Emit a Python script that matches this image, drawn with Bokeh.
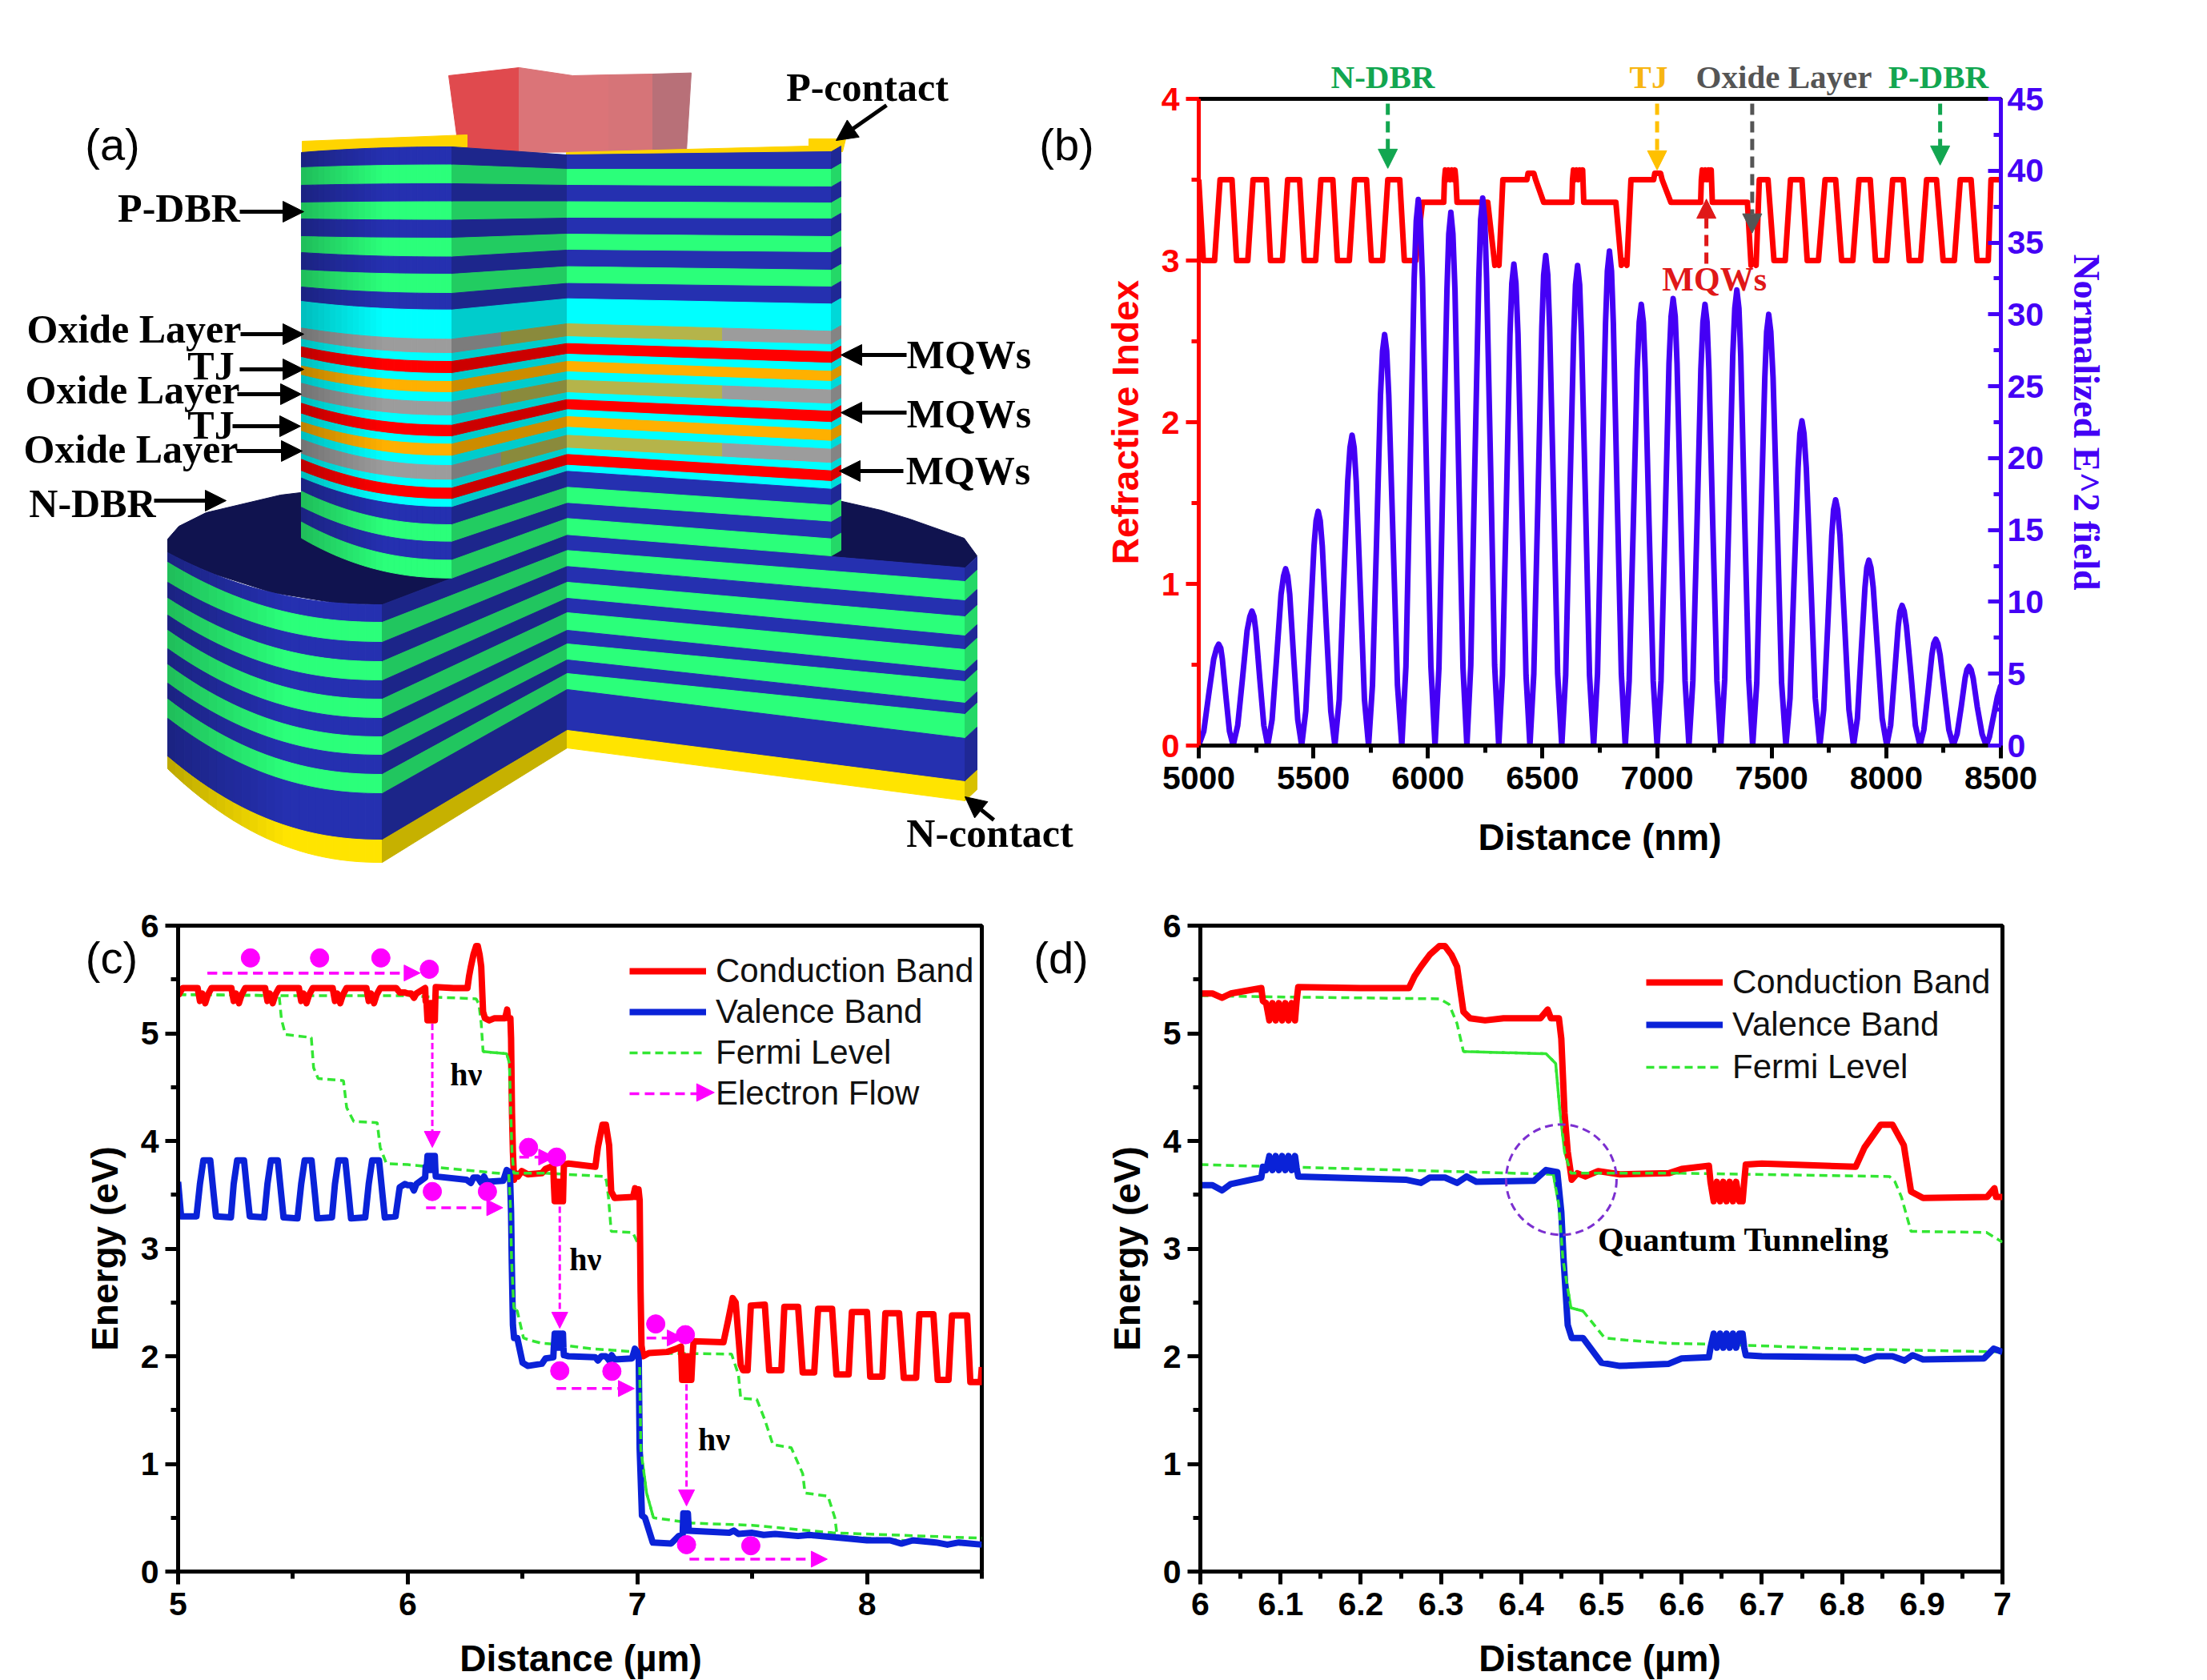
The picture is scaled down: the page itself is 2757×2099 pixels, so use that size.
from bokeh.plotting import figure
from bokeh.layouts import row, column
from bokeh.models import Range1d, LinearAxis, FixedTicker, Label, Arrow, NormalHead, Legend, LegendItem
from bokeh.embed import file_html
from bokeh.resources import INLINE

SANS = "Liberation Sans"
SERIF = "Liberation Serif"
RED = "#FF0000"
BLUE = "#0A22D8"
FIELD = "#4400F5"
GREEN = "#33E633"
MAG = "#FF00FF"

# ---------- panel (b) ----------
index_x = [5000,5020,5069,5093,5145,5165,5214,5237,5295,5313,5365,5388,5440,5460,5510,5533,5585,5605,5657,5680,5732,5753,5802,5825,5877,5897,5947,5976,
           6069,6072,6076,6083,6090,6098,6105,6112,6118,6122,6127,6261,6292,6300,6310,6327,6432,6437,6462,6470,6505,
           6628,6631,6635,6642,6649,6656,6663,6670,6675,6680,6820,6844,6856,6868,6886,6985,6990,7015,7022,7060,
           7190,7193,7197,7204,7211,7218,7225,7232,7236,7241,7394,7410,7420,7432,7446,7484,7510,7559,7582,7632,7655,7704,7733,7779,7805,7854,7881,7930,7953,8002,8028,8074,8100,8150,8176,8219,8248,8297,8323,8370,8396,8445,8457,8500]
index_y = [3.5,3.0,3.0,3.5,3.5,3.0,3.0,3.5,3.5,3.0,3.0,3.5,3.5,3.0,3.0,3.5,3.5,3.0,3.0,3.5,3.5,3.0,3.0,3.5,3.5,3.0,3.0,3.36,
           3.36,3.5,3.56,3.5,3.56,3.5,3.56,3.5,3.56,3.5,3.36,3.36,2.97,3.0,2.97,3.5,3.5,3.54,3.54,3.5,3.36,
           3.36,3.5,3.56,3.5,3.56,3.5,3.56,3.5,3.56,3.36,3.36,2.97,3.0,2.97,3.5,3.5,3.54,3.54,3.5,3.36,
           3.36,3.5,3.56,3.5,3.56,3.5,3.56,3.5,3.56,3.36,3.36,2.97,3.0,2.97,3.5,3.5,3.0,3.0,3.5,3.5,3.0,3.0,3.5,3.5,3.0,3.0,3.5,3.5,3.0,3.0,3.5,3.5,3.0,3.0,3.5,3.5,3.0,3.0,3.5,3.5,3.0,3.0,3.5,3.5]
field_x = [5000,5022,5043,5065,5078,5087,5096,5103,5118,5134,5150,5170,5191,5211,5223,5232,5241,5249,5266,5284,5301,5320,5340,5359,5370,5379,5388,5397,5414,5432,
           5449,5467,5485,5503,5512,5521,5530,5539,5557,5576,5594,5613,5631,5650,5660,5669,5678,5687,5705,5723,5741,5758,5776,5793,5802,5811,5820,5829,5848,5867,
           5886,5904,5922,5940,5949,5958,5967,5976,5994,6013,6031,6048,6065,6083,6091,6100,6109,6118,6135,6153,6170,6187,6204,6222,6230,6239,6248,6256,6274,6291,
           6309,6325,6342,6358,6366,6375,6384,6393,6410,6428,6445,6462,6480,6497,6505,6514,6523,6531,6549,6566,6584,6601,6618,6636,6644,6653,6662,6670,6688,6705,
           6723,6740,6757,6775,6783,6792,6801,6809,6826,6844,6861,6878,6896,6913,6922,6931,6940,6948,6965,6983,7000,7017,7035,7052,7061,7070,7079,7087,7104,7122,
           7139,7156,7174,7191,7200,7209,7218,7226,7243,7261,7278,7295,7313,7330,7339,7348,7357,7365,7382,7400,7417,7435,7452,7470,7478,7487,7496,7506,7525,7543,
           7562,7580,7597,7615,7623,7632,7641,7651,7671,7690,7710,7727,7745,7762,7770,7779,7788,7798,7818,7837,7857,7874,7890,7907,7915,7924,7933,7943,7963,7982,
           8002,8019,8036,8052,8060,8069,8078,8088,8108,8127,8147,8164,8182,8199,8207,8216,8225,8235,8254,8273,8292,8309,8327,8344,8352,8361,8370,8379,8397,8418,
           8436,8450,8465,8485,8500]
field_y = [0,1.0,3.5,6.0,6.77,7.05,6.77,6.0,3.5,1.0,0,1.4,4.7,8.0,8.98,9.35,8.98,8.0,4.7,1.4,0,1.8,6.15,10.5,11.8,12.3,11.8,10.5,6.15,1.8,
           0,2.4,8.15,13.9,15.65,16.3,15.65,13.9,8.15,2.4,0,3.2,10.8,18.4,20.74,21.6,20.74,18.4,10.8,3.2,0,4.2,14.3,24.4,27.46,28.6,27.46,24.4,14.3,4.2,
           0,5.5,19,32.5,36.5,38,36.5,32.5,19,5.5,0,5.4,18.5,31.7,35.6,37.1,35.6,31.7,18.5,5.4,0,5.6,19,32.5,36.6,38.1,36.6,32.5,19,5.6,
           0,4.9,16.7,28.6,32.16,33.5,32.16,28.6,16.7,4.9,0,5,17,29.1,32.74,34.1,32.74,29.1,17,5,0,4.9,16.7,28.5,32.06,33.4,32.06,28.5,16.7,4.9,
           0,5,17.2,29.4,33.02,34.4,33.02,29.4,17.2,5,0,4.5,15.3,26.2,29.47,30.7,29.47,26.2,15.3,4.5,0,4.5,15.5,26.6,29.86,31.1,29.86,26.6,15.5,4.5,
           0,4.5,15.3,26.2,29.47,30.7,29.47,26.2,15.3,4.5,0,4.6,15.8,27.1,30.43,31.7,30.43,27.1,15.8,4.6,0,4.4,15,25.6,28.8,30,28.8,25.6,15,4.4,
           0,3.3,11.3,19.3,21.7,22.6,21.7,19.3,11.3,3.3,0,2.5,8.5,14.6,16.42,17.1,16.42,14.6,8.5,2.5,0,1.9,6.4,11,12.38,12.9,12.38,11,6.4,1.9,
           0,1.4,4.9,8.3,9.36,9.75,9.36,8.3,4.9,1.4,0,1.1,3.7,6.3,7.1,7.4,7.1,6.3,3.7,1.1,0,.8,2.7,4.7,5.28,5.5,5.28,4.7,2.7,.8,
           0,.6,1.8,3.4,4.2]

# ---------- panels (c), (d): band diagram ----------
cb_left_x = [5.0,5.02,5.085,5.095,5.105,5.118,5.13,5.145,5.232,5.242,5.252,5.265,5.277,5.292,5.379,5.389,5.399,5.412,5.424,5.439,
             5.526,5.536,5.546,5.559,5.571,5.586,5.673,5.683,5.693,5.706,5.718,5.733,5.82,5.83,5.84,5.853,5.865,5.88,5.95,5.965,5.985]
cb_left_y = [5.35,5.42,5.42,5.30,5.37,5.28,5.36,5.42,5.42,5.30,5.37,5.28,5.36,5.42,5.42,5.30,5.37,5.28,5.36,5.42,
             5.42,5.30,5.37,5.28,5.36,5.42,5.42,5.30,5.37,5.28,5.36,5.42,5.42,5.30,5.37,5.28,5.36,5.42,5.42,5.38,5.38]
cb_mid_x = [6.0,6.015,6.027,6.038,6.076,6.078,6.082,6.086,6.09,6.094,6.098,6.102,6.106,6.11,6.114,6.118,6.12,6.122,6.2,6.26,6.267,6.275,6.286,6.298,6.305,6.313,6.32,6.328,6.336,6.355,6.378,6.424,6.433,6.437,6.447,6.45,6.454,6.458,6.463,6.47,6.48,6.496,6.523,6.584,6.6,6.634,6.636,6.64,6.644,6.648,6.652,6.656,6.66,6.664,6.668,6.672,6.676,6.678,6.68,6.7,6.817,6.828,6.848,6.863,6.877,6.886,6.901,6.981,6.99,6.992,7.0]
cb_mid_y = [5.37,5.37,5.33,5.37,5.42,5.30,5.28,5.12,5.28,5.12,5.28,5.12,5.28,5.12,5.28,5.12,5.3,5.43,5.42,5.42,5.53,5.62,5.73,5.81,5.81,5.73,5.62,5.2,5.14,5.12,5.14,5.14,5.22,5.14,5.14,4.95,4.26,3.9,3.64,3.7,3.67,3.72,3.69,3.7,3.74,3.77,3.62,3.44,3.62,3.44,3.62,3.44,3.62,3.44,3.62,3.44,3.44,3.62,3.78,3.79,3.76,3.94,4.15,4.15,3.96,3.53,3.47,3.48,3.56,3.48,3.48]
cb_right_x = [7.005,7.01,7.014,7.018,7.025,7.05,7.13,7.17,7.19,7.195,7.2,7.205,7.21,7.215,7.22,7.225,7.23,7.235,7.24,7.245,7.375,7.395,7.415,7.428,7.45,7.46,7.48,7.494,7.555,7.574,7.627,7.64,7.70,7.72,7.77,7.787,7.848,7.867,7.92,7.934,8.0,8.014,8.067,8.08,8.14,8.16,8.214,8.228,8.289,8.308,8.355,8.37,8.436,8.45,8.495,8.5]
cb_right_y = [3.55,3.45,2.6,2.1,2.0,2.03,2.04,2.07,2.09,1.78,2.0,1.78,2.0,1.78,2.0,1.78,2.0,1.78,2.0,2.14,2.13,2.33,2.54,2.5,1.92,1.87,1.87,2.47,2.48,1.87,1.87,2.46,2.46,1.85,1.85,2.44,2.44,1.83,1.83,2.41,2.41,1.81,1.81,2.40,2.40,1.80,1.80,2.39,2.39,1.78,1.78,2.38,2.38,1.76,1.76,1.9]

vb_left_x = [5.0,5.013,5.08,5.095,5.11,5.14,5.155,5.165,5.23,5.242,5.257,5.287,5.302,5.312,5.375,5.389,5.404,5.434,5.449,5.459,5.52,5.536,5.551,5.581,5.596,5.606,5.67,5.683,5.698,5.728,5.743,5.753,5.815,5.83,5.845,5.875,5.89,5.9,5.947,5.965,5.987]
vb_left_y = [3.62,3.3,3.3,3.6,3.82,3.82,3.5,3.3,3.29,3.6,3.82,3.82,3.5,3.3,3.29,3.6,3.82,3.82,3.5,3.29,3.28,3.6,3.82,3.82,3.5,3.28,3.29,3.6,3.82,3.82,3.5,3.28,3.29,3.6,3.82,3.82,3.5,3.29,3.3,3.57,3.6]
vb_mid_x = [6.0,6.015,6.027,6.038,6.076,6.078,6.082,6.086,6.09,6.094,6.098,6.102,6.106,6.11,6.114,6.118,6.12,6.122,6.256,6.275,6.286,6.305,6.32,6.332,6.344,6.416,6.431,6.445,6.45,6.453,6.458,6.463,6.477,6.5,6.523,6.584,6.6,6.634,6.636,6.64,6.644,6.648,6.652,6.656,6.66,6.664,6.668,6.672,6.676,6.678,6.68,6.7,6.817,6.828,6.843,6.863,6.878,6.888,6.901,6.977,6.989,7.0]
vb_mid_y = [3.59,3.59,3.54,3.6,3.66,3.76,3.73,3.86,3.73,3.86,3.73,3.86,3.73,3.86,3.73,3.86,3.75,3.67,3.64,3.61,3.66,3.66,3.61,3.67,3.62,3.63,3.73,3.71,3.34,2.88,2.29,2.17,2.17,1.94,1.91,1.93,1.98,1.99,2.08,2.21,2.08,2.21,2.08,2.21,2.08,2.21,2.08,2.21,2.21,2.08,2.01,2.0,1.99,1.96,2.0,2.0,1.96,2.01,1.97,1.98,2.07,2.04]
vb_right_x = [7.006,7.01,7.02,7.033,7.067,7.147,7.18,7.197,7.2,7.205,7.21,7.215,7.22,7.224,7.4,7.42,7.44,7.5,7.55,7.6,7.7,7.75,7.9,8.0,8.1,8.15,8.2,8.3,8.35,8.4,8.5]
vb_right_y = [1.97,1.14,.52,.5,.27,.26,.33,.34,.54,.38,.54,.38,.54,.38,.36,.38,.35,.36,.34,.35,.33,.34,.31,.29,.29,.26,.29,.27,.25,.27,.25]

efn_left_x = [5.0,5.44]
efn_left_y = [5.36,5.35]
efn_mid_x = [6.0,6.076,6.298,6.31,6.32,6.328,6.431,6.443,6.448,6.454,6.462,6.6,6.859,6.866,6.874,6.886,6.98,7.0]
efn_mid_y = [5.35,5.34,5.32,5.27,5.09,4.83,4.81,4.72,4.3,3.9,3.7,3.7,3.67,3.62,3.48,3.16,3.15,3.06]
efn_right_x = [7.01,7.015,7.03,7.41,7.44,7.45,7.52,7.555,7.59,7.67,7.72,7.73,7.83,7.86,7.87,8.5]
efn_right_y = [3.02,2.15,2.03,2.02,1.83,1.61,1.6,1.41,1.18,1.15,.91,.73,.7,.5,.33,.24]
efp_left_x = [5.0,5.44,5.45,5.467,5.58,5.59,5.61,5.72,5.734,5.765,5.867,5.88,5.907]
efp_left_y = [5.36,5.35,5.13,4.99,4.96,4.68,4.58,4.56,4.31,4.18,4.17,3.94,3.79]
efp_mid_x = [6.0,6.2,6.44,6.447,6.452,6.462,6.477,6.504,6.53,6.584,6.65,6.798,7.0]
efp_mid_y = [3.78,3.74,3.69,3.4,2.9,2.45,2.42,2.17,2.15,2.12,2.11,2.07,2.04]
efp_right_x = [7.01,7.015,7.04,7.07,7.24,7.5,7.85,8.5]
efp_right_y = [1.9,1.14,.73,.5,.45,.43,.36,.31]

electron_x = [5.315,5.616,5.883,6.094,6.107,6.347,6.526,6.648,6.662,6.889,7.08,7.209,7.214,7.494]
electron_y = [5.70,5.70,5.70,5.595,3.53,3.53,3.94,3.85,1.865,1.86,2.3,2.2,.25,.24]
flow_arrows = [(5.128,6.054,5.56),(6.08,6.414,3.38),(6.486,6.64,3.85),(6.648,6.987,1.70),(7.04,7.2,2.17),(7.227,7.827,.115)]
photon_arrows = [(6.107,5.09,3.94),(6.662,3.39,2.26),(7.214,1.74,.61)]

# ---------- panel (a): layer boundaries of the schematic ----------
PB,PG,PC,PY,PR,PO = "#2530B0","#2BFF7A","#00FFFF","#9C9C9C","#FF0000","#FFB000"
YEL = "#FFE400"
pillar_colors = [PB,PG,PB,PG,PB,PG,PB,PG,PB, PC,PY,PC,PR,PC,PO,PC,PY,PC,PR,PC,PO,PC,PY,PC,PR,PC, PB,PG,PB,PG]
pillar_edges = [(190,183,193,189),(209,205.5,211,211),(231,229,231,233),(253,251.5,251.5,253),(273,274.5,272,273),
    (295,297,292,295),(315,320.5,312,315),(337,342,332.6,337),(358,366,353.6,358),(376,386.7,372.7,379.3),
    (409.3,423.3,404,413.3),(423.3,441,420,430),(432.7,451,428.7,439),(446,466,442,453.3),(456.7,476,451,463.3),
    (468.3,490,464,476),(478.3,501.7,474.3,486.7),(495,519,490,504.3),(503.3,530.7,498.7,513.3),(516.7,545,511.3,527.3),
    (526.7,554.3,520,536.7),(538.3,569.3,533.3,550.7),(548.3,581,543.3,560.7),(566.7,599.3,559.3,578.3),(573.3,609.3,567.3,587.7),
    (588.3,623.3,580.7,601),(596.7,633.3,588.3,610.7),(613.3,655,608.3,630.7),(633.3,676.7,628.3,651.7),(651.7,699.3,647.3,672.7),(671.7,721.7,667.3,694)]
base_colors = [PB,PG,PB,PG,PB,PG,PB,PG,PB,PG,PB,YEL]
base_edges = [(690,755,667.3,709),(702,777,687.3,726),(727,802,707.3,750),(747,826,727,770),(768,850,747,794),(787,873,765,811),
    (810,897,787,838),(830,920,804,851),(853,943,824,878),(873,967,841,892),(897,991,861,922),(945,1049,912,976),(960,1077,934,1000)]
PX = (376,564,708,1038,1050)   # pillar: left edge, corners, right edge, side
BX = (209,477,708,1205,1220)   # base: left edge, corners, right edge, side
top_face_x = [209,209,223,257,350,500,800,1047,1100,1136,1204,1220,1205,708,477,420,340,265,228]
top_face_y = [690,673,657,640,618,600,600,625,637,648,672,694,709,667.3,755,753,740,716,700]
contact_left_x, contact_left_y = [377,583,583,377],[176,168,183,190]
contact_right_x, contact_right_y = [707,1010,1010,1056,1052,707],[190,182,173,173,189,200]
cap_parts = [([560,648,648,572],[94,84,190,183],"#E04A4E"),
             ([648,715,760,760,648],[84,94,93,189,190],"#DB7478"),
             ([760,815,815,760],[93,92,189,189],"#D67478"),
             ([815,863,857,815],[92,90.6,188.6,189],"#B87078")]
a_texts = [("P-contact",1083,108),("P-DBR",223,259),("Oxide Layer",167,410),("TJ",263,456),("Oxide Layer",165,486),("TJ",263,530),
           ("Oxide Layer",163,560),("N-DBR",115,628),("MQWs",1210,442),("MQWs",1210,516),("MQWs",1209,587),("N-contact",1236,1040)]
a_arrows = [(299,264,379,264),(300,417,379,417),(299,461,379,461),(296,492,376,492),(290,532,375,532),(295,563,377,563),(192,625,282,625),
            (1132,443,1050,443),(1132,515,1050,515),(1128,588,1048,588),(1107,131,1044,175),(1241,1024,1205,995)]
panel_letters = [("(a)",140,180),("(b)",1332,180),("(c)",139,1196),("(d)",1325,1196)]
b_top_texts = [("N-DBR",1727,95,"#12A650"),("TJ",2059,95,"#F7B512"),("Oxide Layer",2228,95,"#555555"),("P-DBR",2421,95,"#12A650")]
xlabel_cd = [("Distance (µm)",725,2071),("Distance (µm)",1998,2071)]


def hex_scale(c, f):
    r, g, b = int(c[1:3], 16), int(c[3:5], 16), int(c[5:7], 16)
    return "#%02x%02x%02x" % (int(r*f), int(g*f), int(b*f))

def bow(t):
    return 1 - (1 - t) ** 2.2

def lerp(a, b, t):
    return a + (b - a) * t

def add_curved(store, x0, x1, edges, colors, n=26):
    for i, col in enumerate(colors):
        t0, b0 = edges[i][0], edges[i+1][0]
        t1, b1 = edges[i][1], edges[i+1][1]
        for k in range(n):
            ta, tb = k/n, (k+1)/n
            xa, xb = lerp(x0, x1, ta), lerp(x0, x1, tb)
            f = 0.74 + 0.26*min(1, (ta+tb)/2/0.55)
            store.append(([xa, xb, xb, xa],
                          [lerp(t0, t1, bow(ta)), lerp(t0, t1, bow(tb)), lerp(b0, b1, bow(tb)), lerp(b0, b1, bow(ta))],
                          hex_scale(col, f)))

def add_flat(store, xa, xb, ca, cb, edges, colors, f, split=None, olive=None):
    for i, col in enumerate(colors):
        ta, ba = edges[i][ca], edges[i+1][ca]
        tb, bb = edges[i][cb], edges[i+1][cb]
        if col == PY and split is not None:
            u = (split - xa)/(xb - xa)
            tm, bm = lerp(ta, tb, u), lerp(ba, bb, u)
            if olive[0]:   # olive on the right-hand part
                store.append(([xa, split, split, xa], [ta, tm, bm, ba], hex_scale(PY, f)))
                store.append(([split, xb, xb, split], [tm, tb, bb, bm], olive[1]))
            else:
                store.append(([xa, split, split, xa], [ta, tm, bm, ba], olive[1]))
                store.append(([split, xb, xb, split], [tm, tb, bb, bm], hex_scale(PY, f)))
        else:
            store.append(([xa, xb, xb, xa], [ta, tb, bb, ba], hex_scale(col, f)))


def draw_polys(p, polys):
    p.patches([q[0] for q in polys], [q[1] for q in polys], fill_color=[q[2] for q in polys],
              line_color=[q[2] for q in polys], line_width=1)

def text(p, s, x, y, size, font=SERIF, style="bold", color="black", **kw):
    p.add_layout(Label(x=x, y=y, text=s, text_font=font, text_font_size=f"{size}px", text_font_style=style,
                       text_color=color, text_align="center", text_baseline="middle", **kw))

def arrow(p, x0, y0, x1, y1, color, width, size, dash="solid"):
    p.add_layout(Arrow(end=NormalHead(size=size, fill_color=color, line_color=color, line_width=1),
                       x_start=x0, y_start=y0, x_end=x1, y_end=y1,
                       line_color=color, line_width=width, line_dash=dash))

# ------- panel a figure
pa = figure(width=1345, height=1130, x_range=Range1d(0, 1345), y_range=Range1d(1130, 0),
            toolbar_location=None, output_backend="svg", min_border=0, tools="", frame_align=False)
pa.axis.visible = False
pa.grid.visible = False
pa.outline_line_color = None

polys = [(top_face_x, top_face_y, "#10134F")]
for q in cap_parts:
    polys.append(q)
polys.append((contact_left_x, contact_left_y, "#FFD400"))
polys.append((contact_right_x, contact_right_y, "#FFD400"))
add_curved(polys, BX[0], BX[1], [(e[0], e[1]) for e in base_edges], base_colors)
add_flat(polys, BX[1], BX[2], 1, 2, base_edges, base_colors, 0.78)
add_flat(polys, BX[2], BX[3], 2, 3, base_edges, base_colors, 1.0)
side = [(e[3], e[3]-14) for e in base_edges]
add_flat(polys, BX[3], BX[4], 0, 1, side, base_colors, 0.85)
add_curved(polys, PX[0], PX[1], [(e[0], e[1]) for e in pillar_edges], pillar_colors)
add_flat(polys, PX[1], PX[2], 1, 2, pillar_edges, pillar_colors, 0.8, split=626, olive=(True, "#8A8A3C"))
add_flat(polys, PX[2], PX[3], 2, 3, pillar_edges, pillar_colors, 1.0, split=902, olive=(False, "#B5B44A"))
side = [(e[3], e[3]-7) for e in pillar_edges]
add_flat(polys, PX[3], PX[4], 0, 1, side, pillar_colors, 0.85)
draw_polys(pa, polys)

for s, x, y in a_texts:
    text(pa, s, x, y, 50)
for x0, y0, x1, y1 in a_arrows:
    arrow(pa, x0, y0, x1, y1, "black", 5, 26)


def style_axis(ax, color="black", major=None, minor=None, in_ticks=False):
    ax.ticker = FixedTicker(ticks=major, minor_ticks=minor)
    ax.axis_line_color = color
    ax.axis_line_width = 5
    ax.major_tick_line_color = color
    ax.minor_tick_line_color = color
    ax.major_tick_line_width = 5
    ax.minor_tick_line_width = 5
    ax.major_tick_in = 16 if in_ticks else 0
    ax.major_tick_out = 0 if in_ticks else 16
    ax.minor_tick_in = 9 if in_ticks else 0
    ax.minor_tick_out = 0 if in_ticks else 9
    ax.major_label_text_color = color
    ax.major_label_text_font = SANS
    ax.major_label_text_font_style = "bold"
    ax.major_label_text_font_size = "41px"
    ax.axis_label_text_color = color
    ax.axis_label_text_font = SANS
    ax.axis_label_text_font_style = "bold"
    ax.axis_label_text_font_size = "46px"

def frange(a, b, s):
    out = []
    k = 0
    while a + k*s <= b + 1e-9:
        out.append(round(a + k*s, 4))
        k += 1
    return out

def base_fig(w, h, xr, yr, l, r, t, b):
    p = figure(width=w, height=h, x_range=Range1d(*xr), y_range=Range1d(*yr), toolbar_location=None, frame_align=False,
               output_backend="svg", min_border_left=l, min_border_right=r, min_border_top=t, min_border_bottom=b, tools="")
    p.grid.visible = False
    p.outline_line_color = "black"
    p.outline_line_width = 5
    return p

# ------- panel b
pb = base_fig(1412, 1130, (5000, 8500), (0, 4), 152, 258, 123, 199)
pb.extra_y_ranges = {"field": Range1d(0, 45)}
style_axis(pb.xaxis[0], "black", frange(5000, 8500, 500), frange(5000, 8500, 250))
style_axis(pb.yaxis[0], RED, [0, 1, 2, 3, 4], frange(0, 4, .5))
rax = LinearAxis(y_range_name="field", axis_label="Normalized E^2 field")
style_axis(rax, FIELD, frange(0, 45, 5), frange(0, 45, 2.5), in_ticks=True)
rax.axis_label_text_font = SERIF
rax.axis_label_text_font_size = "46px"
rax.axis_label_orientation = "vertical"
pb.add_layout(rax, "right")
pb.xaxis[0].axis_label = "Distance (nm)"
pb.yaxis[0].axis_label = "Refractive Index"
pb.xaxis[0].major_label_standoff = 10
pb.xaxis[0].axis_label_standoff = 31
pb.yaxis[0].major_label_standoff = 8
pb.yaxis[0].axis_label_standoff = 16
rax.major_label_standoff = 8
rax.axis_label_standoff = 25
pb.line(index_x, index_y, line_color=RED, line_width=7, line_join="round")
pb.line(field_x, field_y, line_color=FIELD, line_width=7, line_join="round", y_range_name="field")
text(pb, "MQWs", 7250, 2.885, 42, color="#E01818")
arrow(pb, 5825, 3.97, 5825, 3.57, "#12A650", 5, 24, "14 8")
arrow(pb, 7000, 3.97, 7000, 3.56, "#FFC000", 5, 24, "14 8")
arrow(pb, 7415, 3.97, 7415, 3.17, "#555555", 5, 24, "14 8")
arrow(pb, 8235, 3.97, 8235, 3.59, "#12A650", 5, 24, "14 8")
arrow(pb, 7215, 2.98, 7215, 3.38, "#E01818", 5, 24, "14 8")

# ------- panel c
pc = base_fig(1270, 969, (5, 8.5), (0, 6), 222, 44, 26, 136)
style_axis(pc.xaxis[0], "black", [5, 6, 7, 8], frange(5, 8.5, .5))
style_axis(pc.yaxis[0], "black", frange(0, 6, 1), frange(0, 6, .5))
pc.yaxis[0].axis_label = "Energy (eV)"
pc.xaxis[0].major_label_standoff = 10
pc.yaxis[0].major_label_standoff = 8
pc.yaxis[0].axis_label_standoff = 16
f1 = pc.line(efn_left_x + efn_mid_x + efn_right_x, efn_left_y + efn_mid_y + efn_right_y, line_color=GREEN, line_width=3.5, line_dash="10 6")
pc.line(efp_left_x + efp_mid_x + efp_right_x, efp_left_y + efp_mid_y + efp_right_y, line_color=GREEN, line_width=3.5, line_dash="10 6")
r1 = pc.line(cb_left_x + cb_mid_x + cb_right_x, cb_left_y + cb_mid_y + cb_right_y, line_color=RED, line_width=8, line_join="round")
r2 = pc.line(vb_left_x + vb_mid_x + vb_right_x, vb_left_y + vb_mid_y + vb_right_y, line_color=BLUE, line_width=8, line_join="round")
pc.line(efn_mid_x[5:12], efn_mid_y[5:12], line_color=GREEN, line_width=3.5, line_dash="10 6")
pc.line(efp_mid_x[2:7], efp_mid_y[2:7], line_color=GREEN, line_width=3.5, line_dash="10 6")
pc.line(efp_right_x[:4], efp_right_y[:4], line_color=GREEN, line_width=3.5, line_dash="10 6")
pc.scatter(electron_x, electron_y, size=23, marker="circle", fill_color=MAG, line_color=MAG)
for x0, x1, y in flow_arrows:
    arrow(pc, x0, y, x1, y, MAG, 3.5, 20, "12 7")
for x, y0, y1 in photon_arrows:
    arrow(pc, x, y0, x, y1, MAG, 3, 20, "8 4")
for x, y in [(6.254, 4.62), (6.774, 2.9), (7.334, 1.23)]:
    text(pc, "hν", x, y, 40)
r4 = pc.line([flow_arrows[0][0], flow_arrows[0][1]], [flow_arrows[0][2], flow_arrows[0][2]], line_color=MAG, line_width=3.5, line_dash="12 7")
arrow(pc, 7.26, 4.45, 7.335, 4.45, MAG, 3.5, 22)
pc.add_layout(Legend(items=[LegendItem(label="Conduction Band", renderers=[r1]), LegendItem(label="Valence Band", renderers=[r2]),
                            LegendItem(label="Fermi Level", renderers=[f1]), LegendItem(label="Electron Flow", renderers=[r4])],
                     location=(564, 573), orientation="vertical", background_fill_alpha=0, border_line_color=None,
                     padding=0, margin=0, spacing=3, glyph_width=96, glyph_height=40, label_height=40, label_width=200, label_standoff=12,
                     label_text_font=SANS, label_text_font_size="42px", label_text_color="#111111"))

# ------- panel d
pd = base_fig(1487, 969, (6, 7), (0, 6), 229, 256, 26, 136)
dticks = frange(6, 7, .1)
style_axis(pd.xaxis[0], "black", dticks, frange(6, 7, .05))
pd.xaxis[0].major_label_overrides = {6.0: "6", 7.0: "7"}
style_axis(pd.yaxis[0], "black", frange(0, 6, 1), frange(0, 6, .5))
pd.yaxis[0].axis_label = "Energy (eV)"
pd.xaxis[0].major_label_standoff = 10
pd.yaxis[0].major_label_standoff = 8
pd.yaxis[0].axis_label_standoff = 16
d3 = pd.line(efn_mid_x, efn_mid_y, line_color=GREEN, line_width=3.5, line_dash="10 6")
pd.line(efp_mid_x, efp_mid_y, line_color=GREEN, line_width=3.5, line_dash="10 6")
d1 = pd.line(cb_mid_x, cb_mid_y, line_color=RED, line_width=8, line_join="round")
d2 = pd.line(vb_mid_x, vb_mid_y, line_color=BLUE, line_width=8, line_join="round")
pd.line(efn_mid_x[5:12], efn_mid_y[5:12], line_color=GREEN, line_width=3.5, line_dash="10 6")
pd.line(efp_mid_x[2:7], efp_mid_y[2:7], line_color=GREEN, line_width=3.5, line_dash="10 6")
pd.scatter([6.45], [3.64], size=138, marker="circle", fill_alpha=0, line_color="#7B2FD0", line_width=3, line_dash="10 6")
text(pd, "Quantum Tunneling", 6.677, 3.08, 42)
pd.add_layout(Legend(items=[LegendItem(label="Conduction Band", renderers=[d1]), LegendItem(label="Valence Band", renderers=[d2]),
                            LegendItem(label="Fermi Level", renderers=[d3])],
                     location=(557, 606), orientation="vertical", background_fill_alpha=0, border_line_color=None,
                     padding=0, margin=0, spacing=5, glyph_width=96, glyph_height=40, label_height=40, label_width=200, label_standoff=12,
                     label_text_font=SANS, label_text_font_size="42px", label_text_color="#111111"))

# ------- transparent sheet over the page, for texts that lie outside a plot frame
ov = figure(width=2757, height=2099, x_range=Range1d(0, 2757), y_range=Range1d(2099, 0), toolbar_location=None, tools="",
            output_backend="svg", min_border=0, frame_align=False, background_fill_alpha=0, border_fill_alpha=0,
            styles={"position": "absolute", "left": "0px", "top": "0px", "pointer-events": "none"})
ov.axis.visible = False
ov.grid.visible = False
ov.outline_line_color = None
for s, x, y in panel_letters:
    text(ov, s, x, y, 56, font=SANS, style="normal")
for s, x, y, c in b_top_texts:
    text(ov, s, x, y, 41, color=c)
for s, x, y in xlabel_cd:
    text(ov, s, x, y, 46, font=SANS)

layout = column(row(pa, pb, spacing=0), row(pc, pd, spacing=0), ov, spacing=0)
open("out.html", "w").write(file_html(layout, INLINE))
